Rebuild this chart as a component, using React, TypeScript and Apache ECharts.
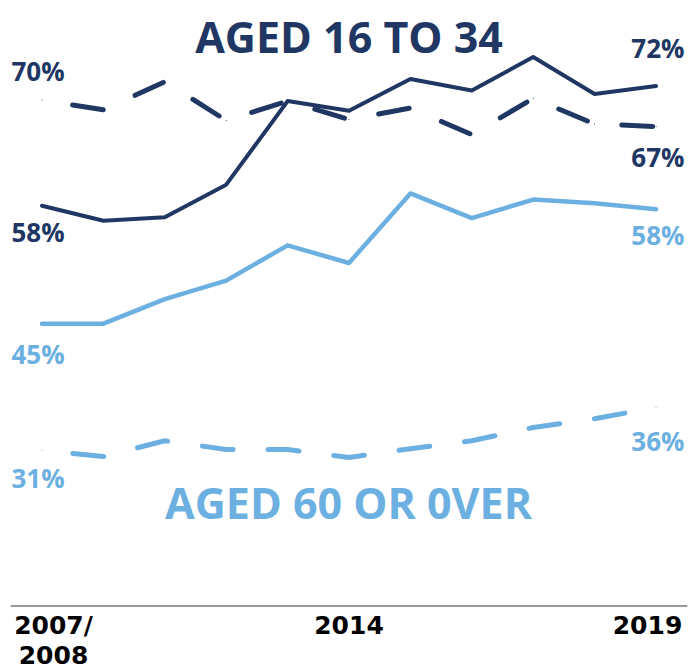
import React, { useEffect, useRef } from "react";
import * as echarts from "echarts";

const tickLabels = ["2007/\n2008", "", "", "", "", "2014", "", "", "", "", "2019"];
const aged16to34Solid = [58.4, 56.7, 57.1, 60.8, 70.3, 69.2, 72.8, 71.5, 75.3, 71.1, 72.0];
const aged16to34Dashed = [70.4, 69.3, 72.5, 68.1, 70.3, 68.2, 69.5, 66.5, 70.6, 67.7, 67.4];
const aged60Solid = [45.0, 45.0, 47.8, 49.9, 53.9, 51.9, 59.8, 57.0, 59.1, 58.7, 58.0];
const aged60Dashed = [30.6, 29.9, 31.7, 30.7, 30.7, 29.8, 30.8, 31.7, 33.2, 34.2, 35.5];
const titleYoung = "AGED 16 TO 34";
const titleOld = "AGED 60 OR 0VER";

const DARK = "#203764";
const LIGHT = "#6cb0e1";
const FONT = "'Open Sans', 'Noto Sans', sans-serif";

function withEndLabels(values: number[], color: string, startDy: number, endDy: number) {
  const last = values.length - 1;
  return values.map((v, i) => {
    if (i !== 0 && i !== last) return v;
    const isStart = i === 0;
    return {
      value: v,
      label: {
        show: true,
        position: [isStart ? -30 : 29, isStart ? startDy : endDy],
        align: isStart ? "left" : "right",
        verticalAlign: "middle",
        formatter: (p: any) => Math.round(p.value) + "%",
        color,
        fontFamily: FONT,
        fontWeight: "bold",
        fontSize: 26,
      },
    };
  });
}

export default function App() {
  const ref = useRef<HTMLDivElement>(null);
  useEffect(() => {
    if (!ref.current) return;
    const chart = echarts.init(ref.current, undefined, { renderer: "svg" });
    const lineSeries = (
      name: string,
      values: number[],
      color: string,
      width: number,
      dashed: boolean,
      startDy: number,
      endDy: number
    ) => ({
      name,
      type: "line",
      data: withEndLabels(values, color, startDy, endDy),
      symbol: "circle",
      symbolSize: 1,
      showSymbol: true,
      silent: true,
      labelLayout: { hideOverlap: false },
      itemStyle: { color },
      lineStyle: dashed
        ? { color, width, type: [31, 35], dashOffset: 35, cap: "round" }
        : { color, width, cap: "round", join: "round" },
    });
    const xl = { fontFamily: "DejaVu Sans", fontWeight: "bold", fontSize: 25, color: "#000", lineHeight: 30 };
    chart.setOption({
      animation: false,
      grid: { left: 11.3, right: 2.3, top: 15.7, bottom: 62.7, containLabel: false, outerBoundsMode: "none" },
      xAxis: {
        type: "category",
        data: tickLabels,
        boundaryGap: true,
        axisLine: { show: true, lineStyle: { color: "#777777", width: 1.5 } },
        axisTick: { show: false },
        axisLabel: {
          interval: 0,
          margin: 5,
          hideOverlap: false,
          formatter: (val: string, idx: number) => {
            if (!val) return "";
            const lines = val.split("\n");
            const style = idx === 0 ? "first" : idx === tickLabels.length - 1 ? "last" : "mid";
            return lines.map((l) => `{${style}|${l}}`).join("\n");
          },
          rich: {
            first: { ...xl, padding: [0, 0, 0, 23] },
            mid: { ...xl },
            last: { ...xl, padding: [0, 17, 0, 0] },
          },
        },
        splitLine: { show: false },
      },
      yAxis: { type: "value", min: 13, max: 80, show: false, splitLine: { show: false } },
      graphic: [
        {
          type: "text",
          x: 349,
          y: 36,
          style: { text: titleYoung, fill: DARK, font: `bold 43px ${FONT}`, textAlign: "center", textVerticalAlign: "middle" },
        },
        {
          type: "text",
          x: 348.5,
          y: 502,
          style: { text: titleOld, fill: LIGHT, font: `bold 43px ${FONT}`, textAlign: "center", textVerticalAlign: "middle" },
        },
      ],
      series: [
        lineSeries("16-34 dashed", aged16to34Dashed, DARK, 5, true, -29, 31),
        lineSeries("60+ dashed", aged60Dashed, LIGHT, 5, true, 28, 34),
        lineSeries("60+ solid", aged60Solid, LIGHT, 4.5, false, 31, 26),
        lineSeries("16-34 solid", aged16to34Solid, DARK, 4, false, 27, -38),
      ],
    });
    return () => chart.dispose();
  }, []);
  return (
    <div
      ref={ref}
      style={{ position: "fixed", left: 0, top: 0, width: 689, height: 668, background: "#fff" }}
    />
  );
}
